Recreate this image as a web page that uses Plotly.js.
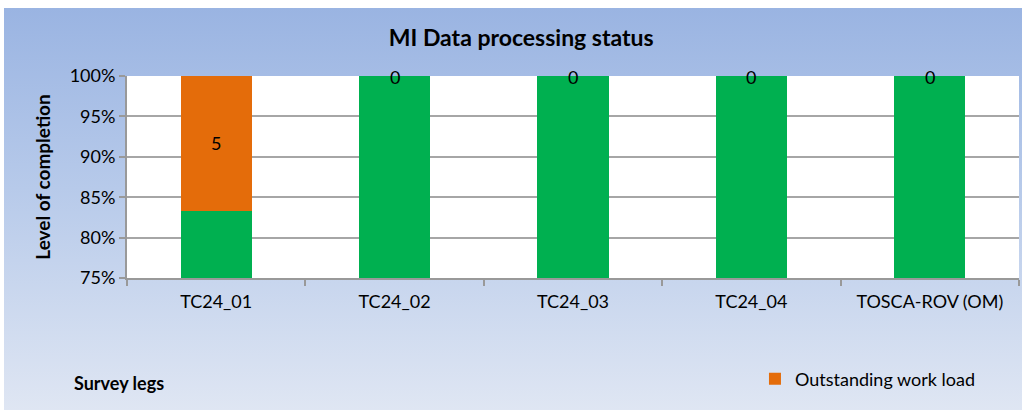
<!DOCTYPE html>
<html>
<head>
<meta charset="utf-8">
<script src="https://cdn.plot.ly/plotly-3.0.1.min.js"></script>
<style>
  body { margin: 0; background: #ffffff; }
  .chart-bg {
    position: absolute; left: 4px; top: 8px; width: 1018px; height: 402px;
    background: linear-gradient(to bottom, #9ab4e2 0%, #b7caea 45%, #dfe6f3 100%);
  }
  #chartDiv { position: absolute; left: 0; top: 0; width: 1026px; height: 412px; }
</style>
</head>
<body>
<div class="chart-bg"></div>
<div id="chartDiv"></div>
<script>
const surveyLegs = ['TC24_01', 'TC24_02', 'TC24_03', 'TC24_04', 'TOSCA-ROV (OM)'];
const processedLines = [25, 30, 30, 30, 30];
const outstandingLines = [5, 0, 0, 0, 0];
const yTickVals = [75, 80, 85, 90, 95, 100];

const totals = processedLines.map((p, i) => p + outstandingLines[i]);
const processedPct = processedLines.map((p, i) => p / totals[i] * 100);
const outstandingPct = outstandingLines.map((o, i) => o / totals[i] * 100);

const fontFam = 'Lato, "Noto Sans", sans-serif';

const processed = {
    x: surveyLegs,
    y: processedPct,
    type: 'bar',
    name: 'Processed',
    marker: { color: '#00b050' },
    showlegend: false,
    hoverinfo: 'skip'
};

const outstanding = {
    x: surveyLegs,
    y: outstandingPct,
    type: 'bar',
    name: 'Outstanding work load',
    marker: { color: '#e46c0a' },
    text: outstandingLines.map(v => v > 0 ? String(v) : ''),
    textposition: 'inside',
    insidetextanchor: 'middle',
    textfont: { family: fontFam, size: 18, color: '#000000' },
    hoverinfo: 'skip'
};

// zero counts: label sits at the top of the stack
const zeroLabels = [];
outstandingLines.forEach((v, i) => {
    if (v === 0) {
        zeroLabels.push({
            x: surveyLegs[i],
            y: processedPct[i] + outstandingPct[i],
            xref: 'x', yref: 'y',
            text: String(v),
            showarrow: false,
            yanchor: 'middle',
            yshift: -1,
            font: { family: fontFam, size: 18, color: '#000000' }
        });
    }
});

const layout = {
    width: 1026,
    height: 412,
    barmode: 'stack',
    bargap: 0.6,
    paper_bgcolor: 'rgba(0,0,0,0)',
    plot_bgcolor: '#ffffff',
    margin: { l: 127, r: 7, t: 76, b: 134 },
    font: { family: fontFam, size: 18, color: '#000000' },
    title: {
        text: '<b>MI Data processing status</b>',
        font: { family: fontFam, size: 23, color: '#000000' },
        x: 0.508, xanchor: 'center',
        y: 0.908, yanchor: 'middle'
    },
    xaxis: {
        type: 'category',
        showgrid: false,
        showline: true,
        linecolor: '#999999',
        linewidth: 2,
        ticks: 'outside',
        tickson: 'boundaries',
        ticklen: 6,
        tickcolor: '#999999',
        tickwidth: 2,
        ticklabelstandoff: 6,
        tickfont: { family: fontFam, size: 18 }
    },
    yaxis: {
        range: [75, 100],
        tickvals: yTickVals,
        ticktext: yTickVals.map(v => v + '%'),
        showgrid: true,
        gridcolor: '#a6a6a6',
        gridwidth: 2,
        showline: true,
        linecolor: '#999999',
        linewidth: 2,
        ticks: 'outside',
        ticklen: 6,
        tickcolor: '#999999',
        tickwidth: 2,
        tickfont: { family: fontFam, size: 18 },
        title: {
            text: '<b>Level of completion</b>',
            font: { family: fontFam, size: 19 },
            standoff: 14
        }
    },
    showlegend: true,
    legend: {
        orientation: 'h',
        x: 0.704,
        xanchor: 'left',
        y: -0.5,
        yanchor: 'middle',
        bgcolor: 'rgba(0,0,0,0)',
        font: { family: fontFam, size: 18 }
    },
    annotations: zeroLabels.concat([{
        text: '<b>Survey legs</b>',
        xref: 'paper', yref: 'paper',
        x: -0.062, y: -0.52,
        xanchor: 'left', yanchor: 'middle',
        showarrow: false,
        font: { family: fontFam, size: 18, color: '#000000' }
    }])
};

Plotly.newPlot('chartDiv', [processed, outstanding], layout, { displayModeBar: false, staticPlot: true });
</script>
</body>
</html>
